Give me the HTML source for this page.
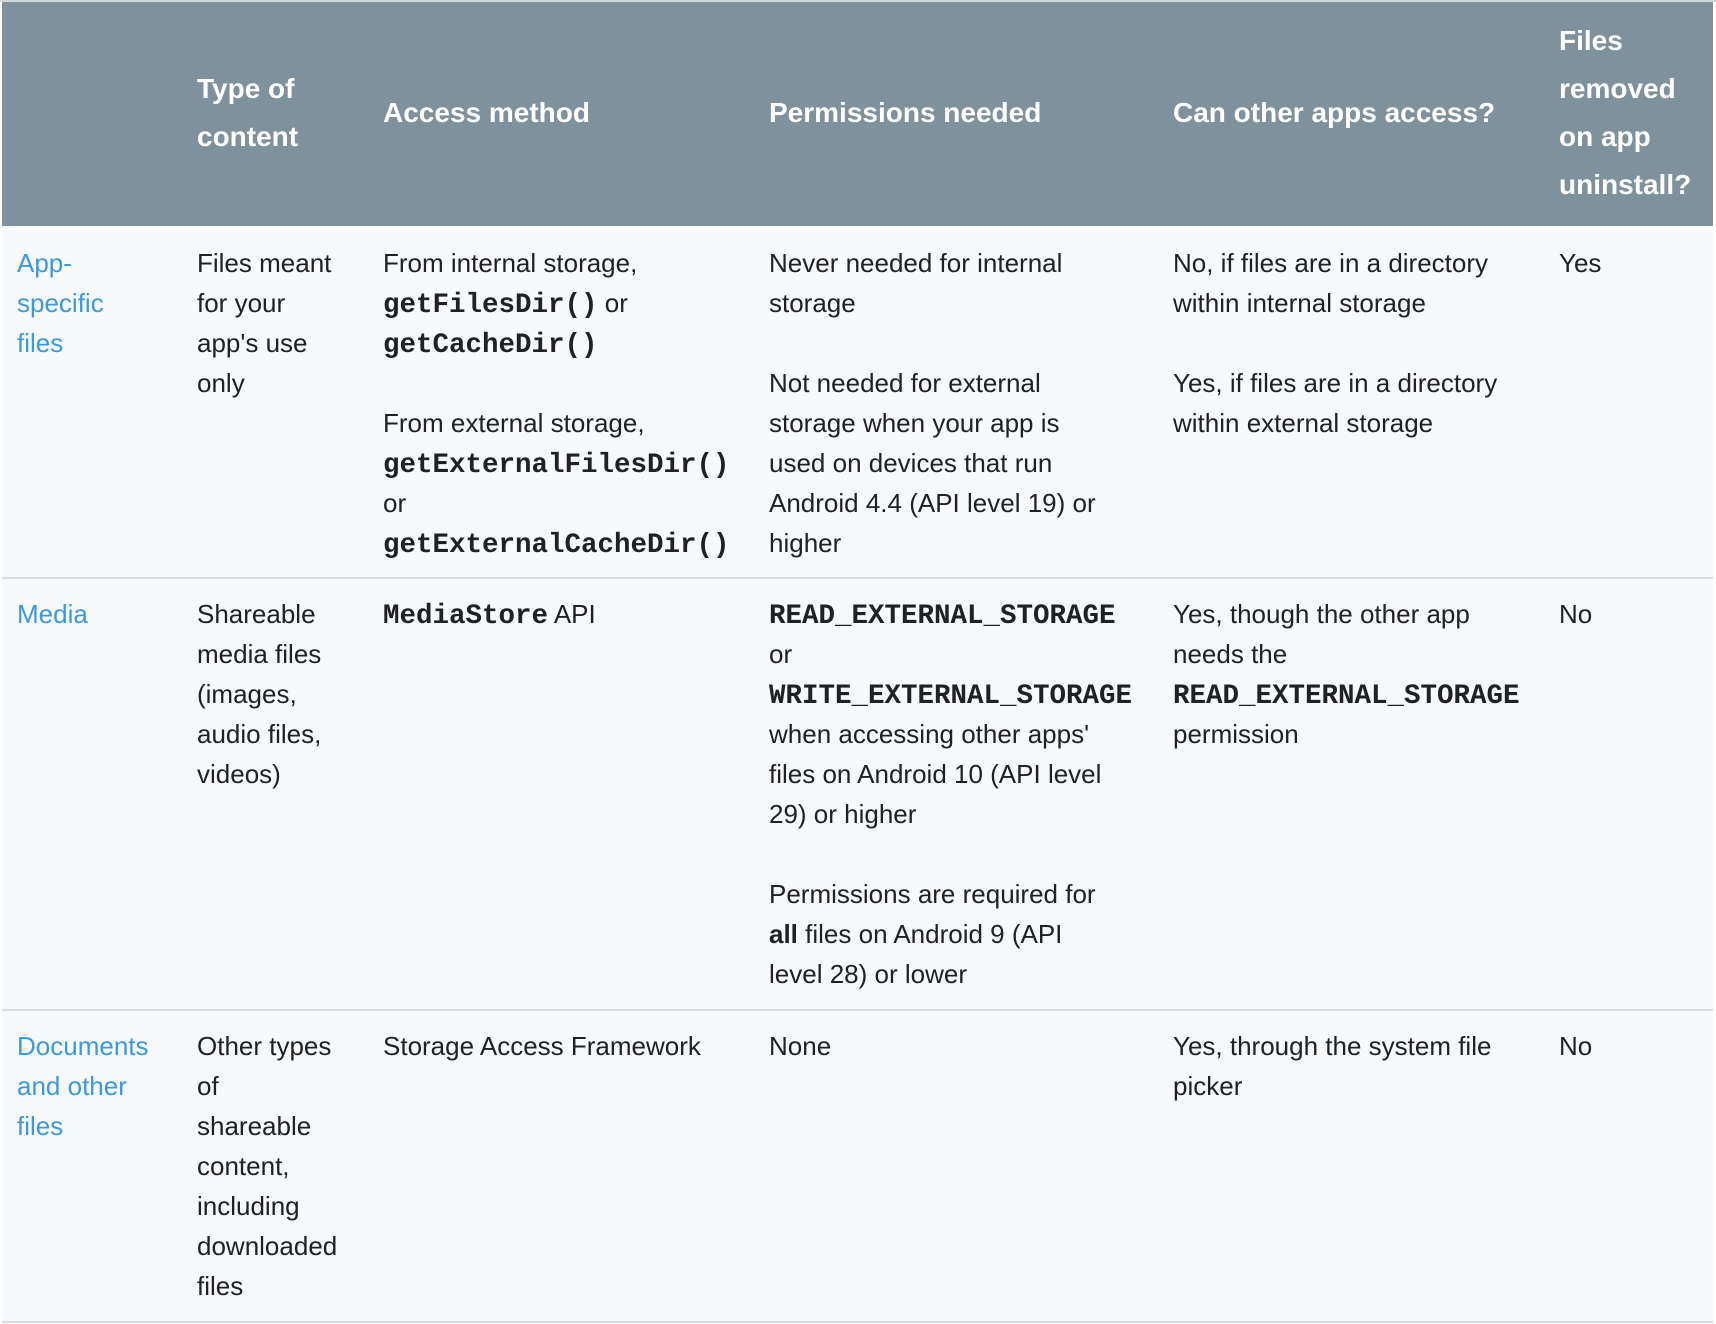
<!DOCTYPE html>
<html><head><meta charset="utf-8"><style>
html,body{margin:0;padding:0}
body{width:1716px;height:1324px;position:relative;background:#fff;font-family:"Liberation Sans",sans-serif;overflow:hidden}
.hdr{position:absolute;left:2px;top:2px;width:1711px;height:224px;background:#7f919c}
.topb{position:absolute;left:0;top:0;width:1716px;height:2px;background:#cfd8dc}
.body{position:absolute;left:2px;top:226px;width:1711px;height:1096px;background:#f8f9fa}
.ln{position:absolute;left:2px;width:1711px;height:2px;background:#d5dbe0}
.h{position:absolute;color:#fff;font-size:28px;line-height:48px;font-weight:bold;white-space:nowrap}
.c{position:absolute;color:#202124;font-size:26px;line-height:40px;white-space:nowrap}
.l{color:#3b99e0}
code{font-family:"Liberation Mono",monospace;font-weight:bold;font-size:27.5px;line-height:0}
</style></head><body>
<div class="topb"></div>
<div class="hdr"></div>
<div class="body"></div>
<div class="ln" style="top:577px"></div>
<div class="ln" style="top:1009px"></div>
<div class="ln" style="top:1321px"></div>

<div class="h" style="left:197px;top:65px">Type of<br>content</div>
<div class="h" style="left:383px;top:89px">Access method</div>
<div class="h" style="left:769px;top:89px">Permissions needed</div>
<div class="h" style="left:1173px;top:89px">Can other apps access?</div>
<div class="h" style="left:1559px;top:17px">Files<br>removed<br>on app<br>uninstall?</div>

<div class="c l" style="left:17px;top:243px">App-<br>specific<br>files</div>
<div class="c" style="left:197px;top:243px">Files meant<br>for your<br>app's use<br>only</div>
<div class="c" style="left:383px;top:243px">From internal storage,<br><code>getFilesDir()</code> or<br><code>getCacheDir()</code><br><br>From external storage,<br><code>getExternalFilesDir()</code><br>or<br><code>getExternalCacheDir()</code></div>
<div class="c" style="left:769px;top:243px">Never needed for internal<br>storage<br><br>Not needed for external<br>storage when your app is<br>used on devices that run<br>Android 4.4 (API level 19) or<br>higher</div>
<div class="c" style="left:1173px;top:243px">No, if files are in a directory<br>within internal storage<br><br>Yes, if files are in a directory<br>within external storage</div>
<div class="c" style="left:1559px;top:243px">Yes</div>

<div class="c l" style="left:17px;top:594px">Media</div>
<div class="c" style="left:197px;top:594px">Shareable<br>media files<br>(images,<br>audio files,<br>videos)</div>
<div class="c" style="left:383px;top:594px"><code>MediaStore</code> API</div>
<div class="c" style="left:769px;top:594px"><code>READ_EXTERNAL_STORAGE</code><br>or<br><code>WRITE_EXTERNAL_STORAGE</code><br>when accessing other apps'<br>files on Android 10 (API level<br>29) or higher<br><br>Permissions are required for<br><b>all</b> files on Android 9 (API<br>level 28) or lower</div>
<div class="c" style="left:1173px;top:594px">Yes, though the other app<br>needs the<br><code>READ_EXTERNAL_STORAGE</code><br>permission</div>
<div class="c" style="left:1559px;top:594px">No</div>

<div class="c l" style="left:17px;top:1026px">Documents<br>and other<br>files</div>
<div class="c" style="left:197px;top:1026px">Other types<br>of<br>shareable<br>content,<br>including<br>downloaded<br>files</div>
<div class="c" style="left:383px;top:1026px">Storage Access Framework</div>
<div class="c" style="left:769px;top:1026px">None</div>
<div class="c" style="left:1173px;top:1026px">Yes, through the system file<br>picker</div>
<div class="c" style="left:1559px;top:1026px">No</div>
</body></html>
